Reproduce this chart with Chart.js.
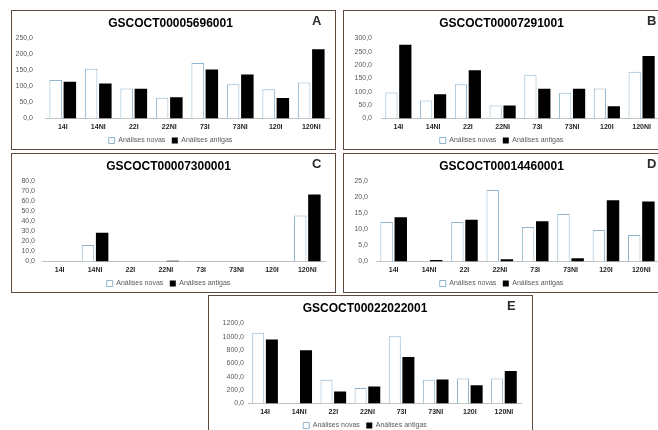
<!DOCTYPE html>
<html>
<head>
<meta charset="utf-8">
<script src="https://cdn.jsdelivr.net/npm/chart.js@4.4.1/dist/chart.umd.min.js"></script>
<style>
  html, body { margin: 0; padding: 0; background: #fff; }
  body { width: 658px; height: 430px; overflow: hidden; position: relative; font-family: "Liberation Sans", Arial, sans-serif; }
  .panel { position: absolute; width: 323px; height: 138px; border: 1px solid #5e4a3e; background: #fff; overflow: hidden; }
  .panel canvas { position: absolute; left: 0; top: 0; }
  .tag { position: absolute; top: 2px; font: bold 13px "Liberation Sans", Arial, sans-serif; color: #2b2b2b; }
</style>
</head>
<body>
<div class="panel" style="left:11px;top:10px"><canvas id="cA" width="323" height="143"></canvas><span class="tag" style="left:300px">A</span></div>
<div class="panel" style="left:343px;top:10px"><canvas id="cB" width="323" height="143"></canvas><span class="tag" style="left:303px">B</span></div>
<div class="panel" style="left:11px;top:153px"><canvas id="cC" width="323" height="143"></canvas><span class="tag" style="left:300px">C</span></div>
<div class="panel" style="left:343px;top:153px"><canvas id="cD" width="323" height="143"></canvas><span class="tag" style="left:303px">D</span></div>
<div class="panel" style="left:208px;top:295px"><canvas id="cE" width="323" height="143"></canvas><span class="tag" style="left:298px">E</span></div>
<script>
// Sample categories shared by every panel
const categories = ["14I", "14NI", "22I", "22NI", "73I", "73NI", "120I", "120NI"];
const seriesNames = ["Análises novas", "Análises antigas"];

// GSCOCT00005696001
const novasA   = [120, 155, 94, 65, 173, 107, 91, 112];
const antigasA = [115, 109, 93, 66, 153, 137, 64, 216];
// GSCOCT00007291001
const novasB   = [97, 67, 128, 49, 164, 96, 112, 175];
const antigasB = [276, 91, 181, 49, 111, 111, 46, 234];
// GSCOCT00007300001
const novasC   = [0, 16.5, 0, 0, 0, 0, 0, 46];
const antigasC = [0, 28.7, 0, 0.8, 0, 0, 0, 67];
// GSCOCT00014460001
const novasD   = [12.3, 0, 12.3, 22.3, 10.8, 14.8, 9.8, 8.3];
const antigasD = [13.8, 0.5, 13.0, 0.7, 12.6, 1.0, 19.1, 18.7];
// GSCOCT00022022001
const novasE   = [1059, 0, 355, 233, 1006, 355, 374, 374];
const antigasE = [957, 797, 180, 253, 695, 360, 272, 486];

// Y-axis tick ranges per panel: [max, step]
const yRangeA = [250, 50];
const yRangeB = [300, 50];
const yRangeC = [80, 10];
const yRangeD = [25, 5];
const yRangeE = [1200, 200];

const FONT = "'Liberation Sans', Arial, sans-serif";

function fmt(v) {
  return v.toFixed(1).replace('.', ',');
}

function drawPanel(canvasId, title, novas, antigas, range, geom) {
  new Chart(document.getElementById(canvasId), {
    type: 'bar',
    data: {
      labels: categories,
      datasets: [
        {
          label: seriesNames[0],
          data: novas,
          backgroundColor: '#ffffff',
          borderColor: '#8fb5cf',
          borderWidth: 1,
          borderSkipped: 'bottom',
          categoryPercentage: 0.8,
          barPercentage: 0.88
        },
        {
          label: seriesNames[1],
          data: antigas,
          backgroundColor: '#000000',
          borderColor: '#000000',
          borderWidth: 0,
          categoryPercentage: 0.8,
          barPercentage: 0.88
        }
      ]
    },
    options: {
      responsive: false,
      animation: false,
      devicePixelRatio: 1,
      layout: { padding: { left: 0, right: geom.right, top: 0, bottom: 0 } },
      plugins: {
        title: {
          display: true,
          text: title,
          color: '#000',
          font: { family: FONT, size: 12, weight: 'bold' },
          padding: { top: 5, bottom: 8 }
        },
        legend: {
          position: 'bottom',
          labels: {
            boxWidth: 6,
            boxHeight: 6,
            padding: 6.5,
            color: '#595959',
            font: { family: FONT, size: 7 }
          }
        },
        tooltip: { enabled: false }
      },
      scales: {
        x: {
          grid: { display: false, drawTicks: false },
          border: { display: true, color: '#bfbfbf', width: 1 },
          ticks: {
            color: '#262626',
            padding: 5,
            font: { family: FONT, size: 7, weight: 'bold', lineHeight: 1 },
            maxRotation: 0,
            autoSkip: false
          },
          // keep the category row tight against the legend
          afterFit: (scale) => { scale.height = 12; }
        },
        y: {
          min: 0,
          max: range[0],
          grid: { display: false, drawTicks: false },
          border: { display: false },
          ticks: {
            stepSize: range[1],
            autoSkip: false,
            color: '#595959',
            padding: geom.tickPad,
            font: { family: FONT, size: 7 },
            callback: (v) => fmt(v)
          },
          afterFit: (scale) => { scale.width = geom.axisWidth; }
        }
      }
    }
  });
}

drawPanel('cA', 'GSCOCT00005696001', novasA, antigasA, yRangeA, { axisWidth: 33, right: 6, tickPad: 12 });
drawPanel('cB', 'GSCOCT00007291001', novasB, antigasB, yRangeB, { axisWidth: 37, right: 8, tickPad: 9 });
drawPanel('cC', 'GSCOCT00007300001', novasC, antigasC, yRangeC, { axisWidth: 30, right: 10, tickPad: 7 });
drawPanel('cD', 'GSCOCT00014460001', novasD, antigasD, yRangeD, { axisWidth: 32, right: 8, tickPad: 8 });
drawPanel('cE', 'GSCOCT00022022001', novasE, antigasE, yRangeE, { axisWidth: 39, right: 11, tickPad: 4 });
</script>
</body>
</html>
